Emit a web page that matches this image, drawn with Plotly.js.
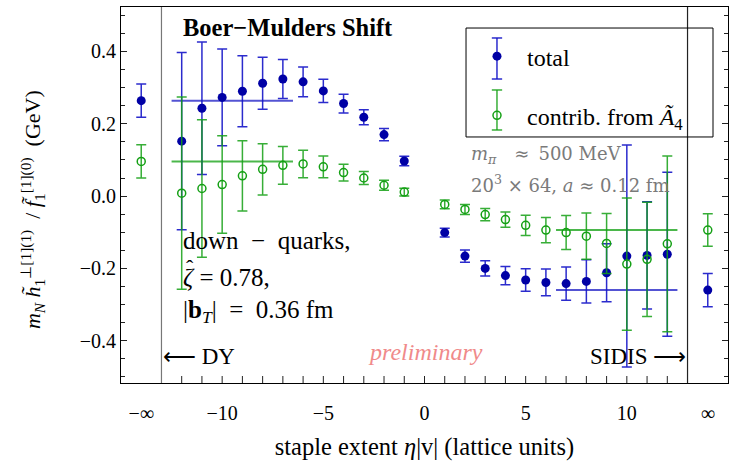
<!DOCTYPE html>
<html><head><meta charset="utf-8">
<script src="https://cdn.plot.ly/plotly-3.0.1.min.js"></script>
<style>html,body{margin:0;padding:0;background:#fff}</style>
</head><body><div id="chart" style="width:730px;height:461px"></div>
<script>
// staple extent eta|v| ; '-inf' and 'inf' are the DY / SIDIS limits
const eta = ['-inf',-12,-11,-10,-9,-8,-7,-6,-5,-4,-3,-2,-1,1,2,3,4,5,6,7,8,9,10,11,12,'inf'];
const totalVal = [0.264,0.152,0.243,0.273,0.290,0.312,0.324,0.316,0.291,0.256,0.218,0.170,0.097,
                  -0.101,-0.166,-0.200,-0.220,-0.232,-0.239,-0.242,-0.236,-0.212,-0.166,-0.164,-0.161,-0.260];
const totalErr = [0.046,0.245,0.183,0.134,0.098,0.072,0.054,0.041,0.032,0.026,0.021,0.017,0.013,
                  0.012,0.017,0.021,0.025,0.031,0.037,0.046,0.060,0.080,0.307,0.148,0.227,0.046];
const a4Val = [0.096,0.008,0.021,0.032,0.056,0.074,0.085,0.089,0.081,0.065,0.050,0.030,0.011,
               -0.023,-0.037,-0.051,-0.065,-0.081,-0.094,-0.101,-0.111,-0.131,-0.188,-0.175,-0.132,-0.094];
const a4Err = [0.046,0.266,0.190,0.135,0.097,0.071,0.052,0.038,0.030,0.023,0.018,0.014,0.011,
               0.012,0.014,0.017,0.021,0.028,0.035,0.047,0.064,0.083,0.183,0.158,0.243,0.045];
// plateau bands: the infinite-staple values drawn across a range of finite staples
const plateauDY = [-12.5, -6.5];
const plateauSIDIS = [6.5, 12.5];
const xTickVals = ['-inf',-10,-5,0,5,10,'inf'];
const xTickText = ['\u2212\u221e','\u221210','\u22125','0','5','10','\u221e'];
const xMinorVals = [-12,-11,-10,-9,-8,-7,-6,-5,-4,-3,-2,-1,0,1,2,3,4,5,6,7,8,9,10,11,12];
const yTickStep = 0.2, yMinorStep = 0.05, yTickFormat = '.1f';

const INF_SLOT = 14;
const pos = e => e === '-inf' ? -INF_SLOT : (e === 'inf' ? INF_SLOT : e);
const X = eta.map(pos);
const font = 'Liberation Serif, Times New Roman, serif';

const blue = 'rgb(0,0,165)', blueBar = 'rgba(20,20,200,0.9)';
const green = 'rgb(20,160,20)', greenBar = 'rgba(20,160,20,0.85)';
const tickC = '#222';

const iMinus = eta.indexOf('-inf'), iPlus = eta.indexOf('inf');
const traces = [
  {x: plateauDY, y: [totalVal[iMinus], totalVal[iMinus]], mode:'lines', line:{color:'rgba(40,40,200,0.8)', width:2}, showlegend:false, hoverinfo:'skip'},
  {x: plateauSIDIS, y: [totalVal[iPlus], totalVal[iPlus]], mode:'lines', line:{color:'rgba(40,40,200,0.8)', width:2}, showlegend:false, hoverinfo:'skip'},
  {x: plateauDY, y: [a4Val[iMinus], a4Val[iMinus]], mode:'lines', line:{color:'rgba(30,165,30,0.8)', width:2}, showlegend:false, hoverinfo:'skip'},
  {x: plateauSIDIS, y: [a4Val[iPlus], a4Val[iPlus]], mode:'lines', line:{color:'rgba(30,165,30,0.8)', width:2}, showlegend:false, hoverinfo:'skip'},
  {x: X, y: totalVal, name:'total', legendgroup:'a', mode:'markers',
   marker:{color: blue, size:9, symbol:'circle'},
   error_y:{type:'data', array: totalErr, visible:true, color: blueBar, thickness:1.5, width:5}},
  {x: X, y: a4Val, name:'contrib. from <i>\u00c3</i><sub>4</sub>', legendgroup:'b', mode:'markers',
   marker:{color: green, size:8, symbol:'circle-open', line:{color: green, width:1.5}},
   error_y:{type:'data', array: a4Err, visible:true, color: greenBar, thickness:1.5, width:5}},
];

// legend glyph error bars (paper coords)
const lgX = 0.6194, capW = 0.0085;
const lgBar = (y0, y1, c) => [
  {type:'line', xref:'paper', yref:'paper', x0:lgX, x1:lgX, y0:y0, y1:y1, line:{color:c, width:1.5}},
  {type:'line', xref:'paper', yref:'paper', x0:lgX-capW, x1:lgX+capW, y0:y0, y1:y0, line:{color:c, width:1.5}},
  {type:'line', xref:'paper', yref:'paper', x0:lgX-capW, x1:lgX+capW, y0:y1, y1:y1, line:{color:c, width:1.5}},
];
// inward bottom-axis tick marks at every integer staple extent
const xTickMarks = xMinorVals.map(v => ({type:'line', xref:'x', yref:'paper', x0:v, x1:v, y0:0, y1:0.0186,
                                          line:{color:tickC, width:1}, layer:'above'}));

const annFont = (size, color, fam) => ({family: fam || font, size: size, color: color || 'black'});
const cmFont = 'DejaVu Serif, serif';
const layout = {
  width:730, height:461,
  margin:{l:121, r:2, t:7, b:78},
  paper_bgcolor:'white', plot_bgcolor:'white',
  font:{family: font, size:20, color:'black'},
  showlegend:true,
  legend:{x:0.57, y:0.928, xanchor:'left', yanchor:'top', borderwidth:0,
          bgcolor:'rgba(0,0,0,0)', font:{family: font, size:24}, tracegroupgap:25, itemwidth:50},
  xaxis:{range:[-15,15], tickmode:'array', tickvals: xTickVals.map(pos), ticktext: xTickText, ticks:'',
         tickfont:{family: font, size:20}, ticklabelstandoff:12,
         showgrid:false, zeroline:false, showline:true, mirror:true, linecolor:'black', linewidth:1,
         title:{text:'staple extent <i>\u03b7</i>|v| (lattice units)', font:{family: font, size:24.5}, standoff:45}},
  yaxis:{range:[-0.517,0.523], tickmode:'linear', tick0:0, dtick:yTickStep, tickformat:yTickFormat,
         ticks:'inside', ticklen:6, tickwidth:1, tickcolor:tickC, showgrid:false, zeroline:false,
         showline:true, mirror:'allticks', linecolor:'black', linewidth:1,
         minor:{tickmode:'linear', dtick:yMinorStep, tick0:0, ticks:'inside', ticklen:4, tickwidth:1, tickcolor:tickC, showgrid:false},
         tickfont:{family: font, size:20}},
  shapes:[
    {type:'line', xref:'x', yref:'paper', x0:-13, x1:-13, y0:0, y1:1, line:{color:'#777', width:1.2}},
    {type:'line', xref:'x', yref:'paper', x0:13, x1:13, y0:0, y1:1, line:{color:'#222', width:1.2}},
    {type:'rect', xref:'paper', yref:'paper', x0:0.5684, x1:0.9753, y0:0.6543, y1:0.9441, line:{color:'black', width:1}, fillcolor:'rgba(0,0,0,0)', layer:'above'},
    ...lgBar(0.9176, 0.8085, blueBar),
    ...lgBar(0.7793, 0.6729, greenBar),
    ...xTickMarks,
  ],
  annotations:[
    {text:'<i>m</i><sub><i>N</i></sub> <i>h\u0303</i><sub>1</sub><sup>\u22a5[1](1)</sup>  / <i>f\u0303</i><sub>1</sub><sup>[1](0)</sup>  (GeV)',
     x:-0.1466, y:0.46, xref:'paper', yref:'paper', xanchor:'center', yanchor:'middle', textangle:-90, showarrow:false, font:annFont(22)},
    {text:'<b>Boer\u2212Mulders Shift</b>', x:-12.05, y:0.465, xref:'x', yref:'y', xanchor:'left', yanchor:'middle', showarrow:false, font:annFont(24.5)},
    {text:'<i>m</i><sub><i>\u03c0</i></sub>\u2003\u2248\u2002500 MeV', x:2.2, y:0.113, xref:'x', yref:'y', xanchor:'left', yanchor:'middle', showarrow:false, font:annFont(18,'#7a7a7a',cmFont)},
    {text:'20<sup>3</sup> \u00d7 64, <i>a</i> \u2248 0.12 fm', x:2.2, y:0.033, xref:'x', yref:'y', xanchor:'left', yanchor:'middle', showarrow:false, font:annFont(18,'#7a7a7a',cmFont)},
    {text:'down\u2002\u2212\u2002quarks,', x:-12.05, y:-0.124, xref:'x', yref:'y', xanchor:'left', yanchor:'middle', showarrow:false, font:annFont(25)},
    {text:'<i>\u03b6</i> = 0.78,', x:-12.05, y:-0.224, xref:'x', yref:'y', xanchor:'left', yanchor:'middle', showarrow:false, font:annFont(25)},
    {text:'\u02c6', x:-11.6, y:-0.198, xref:'x', yref:'y', xanchor:'center', yanchor:'middle', showarrow:false, font:annFont(22)},
    {text:'|<b>b</b><sub><i>T</i></sub>|\u2002=\u20020.36 fm', x:-12.05, y:-0.318, xref:'x', yref:'y', xanchor:'left', yanchor:'middle', showarrow:false, font:annFont(25)},
    {text:'\u27f5 DY', x:-13, y:-0.445, xref:'x', yref:'y', xanchor:'left', yanchor:'middle', showarrow:false, font:annFont(23)},
    {text:'SIDIS \u27f6', x:13, y:-0.445, xref:'x', yref:'y', xanchor:'right', yanchor:'middle', showarrow:false, font:annFont(23)},
    {text:'<i>preliminary</i>', x:0.07, y:-0.432, xref:'x', yref:'y', xanchor:'center', yanchor:'middle', showarrow:false, font:annFont(24,'#f08a8a')},
  ],
};
Plotly.newPlot('chart', traces, layout, {staticPlot:true, displayModeBar:false});
</script></body></html>
